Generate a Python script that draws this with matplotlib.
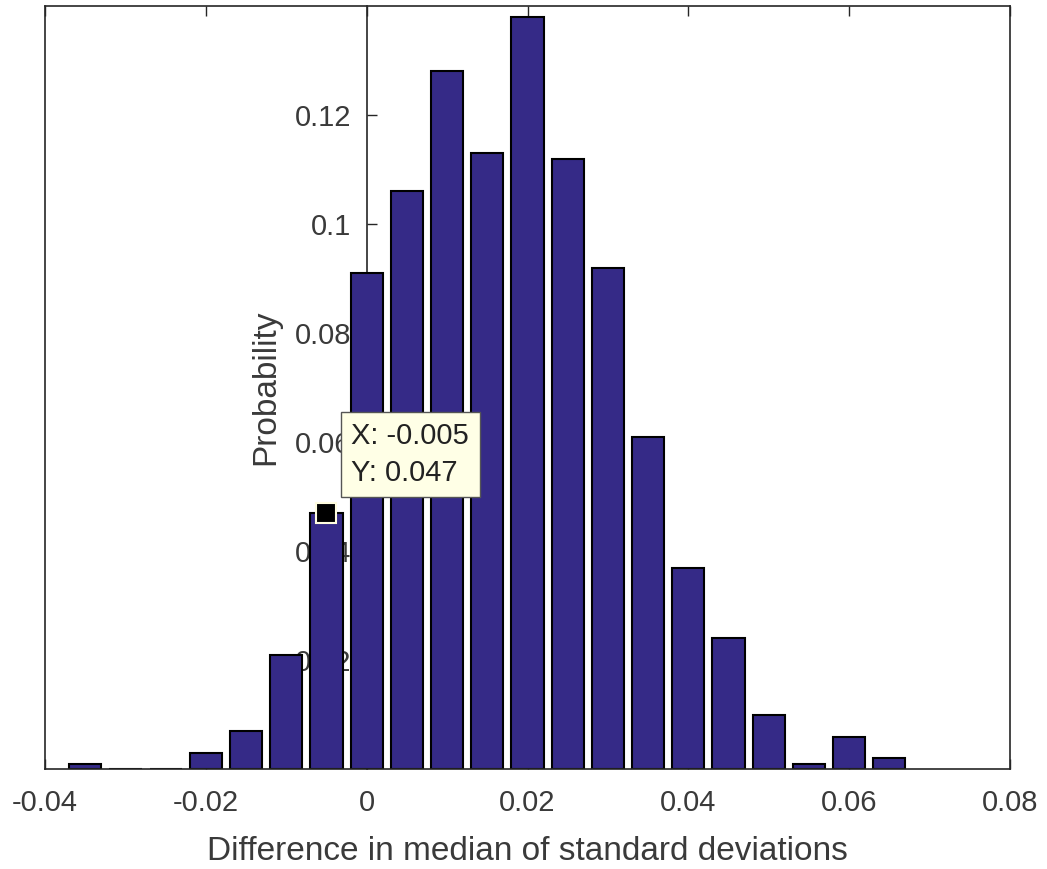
import matplotlib
matplotlib.use("Agg")
import matplotlib.pyplot as plt
import numpy as np

# histogram bin centres and probabilities
centers = [-0.035, -0.03, -0.025, -0.02, -0.015, -0.01, -0.005, 0.0, 0.005, 0.01, 0.015,
           0.02, 0.025, 0.03, 0.035, 0.04, 0.045, 0.05, 0.055, 0.06, 0.065]
probs = [0.001, 0.0, 0.0, 0.003, 0.007, 0.021, 0.047, 0.091, 0.106, 0.128, 0.113,
         0.138, 0.112, 0.092, 0.061, 0.037, 0.024, 0.010, 0.001, 0.006, 0.002]
xticks = [-0.04, -0.02, 0, 0.02, 0.04, 0.06, 0.08]
xticklabels = ["-0.04", "-0.02", "0", "0.02", "0.04", "0.06", "0.08"]
yticks = [0.02, 0.04, 0.06, 0.08, 0.1, 0.12]
yticklabels = ["0.02", "0.04", "0.06", "0.08", "0.1", "0.12"]
tip_x, tip_y = -0.005, 0.047

plt.rcParams['font.family'] = ['Liberation Sans', 'DejaVu Sans']
axcol = '#262626'
txtcol = '#3a3a3a'

fig = plt.figure(figsize=(10.47, 8.69), dpi=100)
ax = fig.add_axes([0.043, 0.1147, 0.9217, 0.8784])

ax.bar(centers, probs, width=0.004, color='#352a87', edgecolor='black',
       linewidth=1.5, zorder=1)

ax.set_xlim(-0.04, 0.08)
ax.set_ylim(0, 0.14)
ax.set_axisbelow(True)

# y axis sits at x = 0, drawn under the bars
ax.spines['left'].set_position(('data', 0))
ax.spines['left'].set_zorder(0.5)
for s in ['left', 'right', 'top', 'bottom']:
    ax.spines[s].set_color(axcol)
    ax.spines[s].set_linewidth(1.2)
ax.plot([0, 0], [0, 1], transform=ax.transAxes, color=axcol, lw=1.2,
        clip_on=False, zorder=3)

ax.set_xticks(xticks)
ax.set_xticklabels(xticklabels)
ax.set_yticks(yticks)
ax.set_yticklabels(yticklabels)
ax.tick_params(axis='x', direction='in', top=True, length=7, width=1,
               color=axcol, labelcolor=txtcol, labelsize=21, pad=14)
ax.tick_params(axis='y', direction='in', length=7, width=1,
               color=axcol, labelcolor=txtcol, labelsize=21, pad=11)

ax.set_xlabel("Difference in median of standard deviations", fontsize=24, color=txtcol)
ax.xaxis.set_label_coords(0.5, -0.087)
ax.set_ylabel("Probability", fontsize=24, color=txtcol)
ax.yaxis.set_label_coords(0.245, 0.5)

# data tip
ax.plot([tip_x], [tip_y], marker='s', markersize=15, color='black',
        markeredgecolor='#fffde0', markeredgewidth=1.5, zorder=4)
ax.annotate("X: %g\nY: %g" % (tip_x, tip_y), xy=(tip_x, tip_y), xytext=(18, 19),
            textcoords='offset points', ha='left', va='bottom', fontsize=21,
            color='#222222', linespacing=1.38, zorder=5,
            bbox=dict(boxstyle='square,pad=0.36', fc='#ffffe6', ec='#555555', lw=1))

fig.savefig("out.png", dpi=100)
